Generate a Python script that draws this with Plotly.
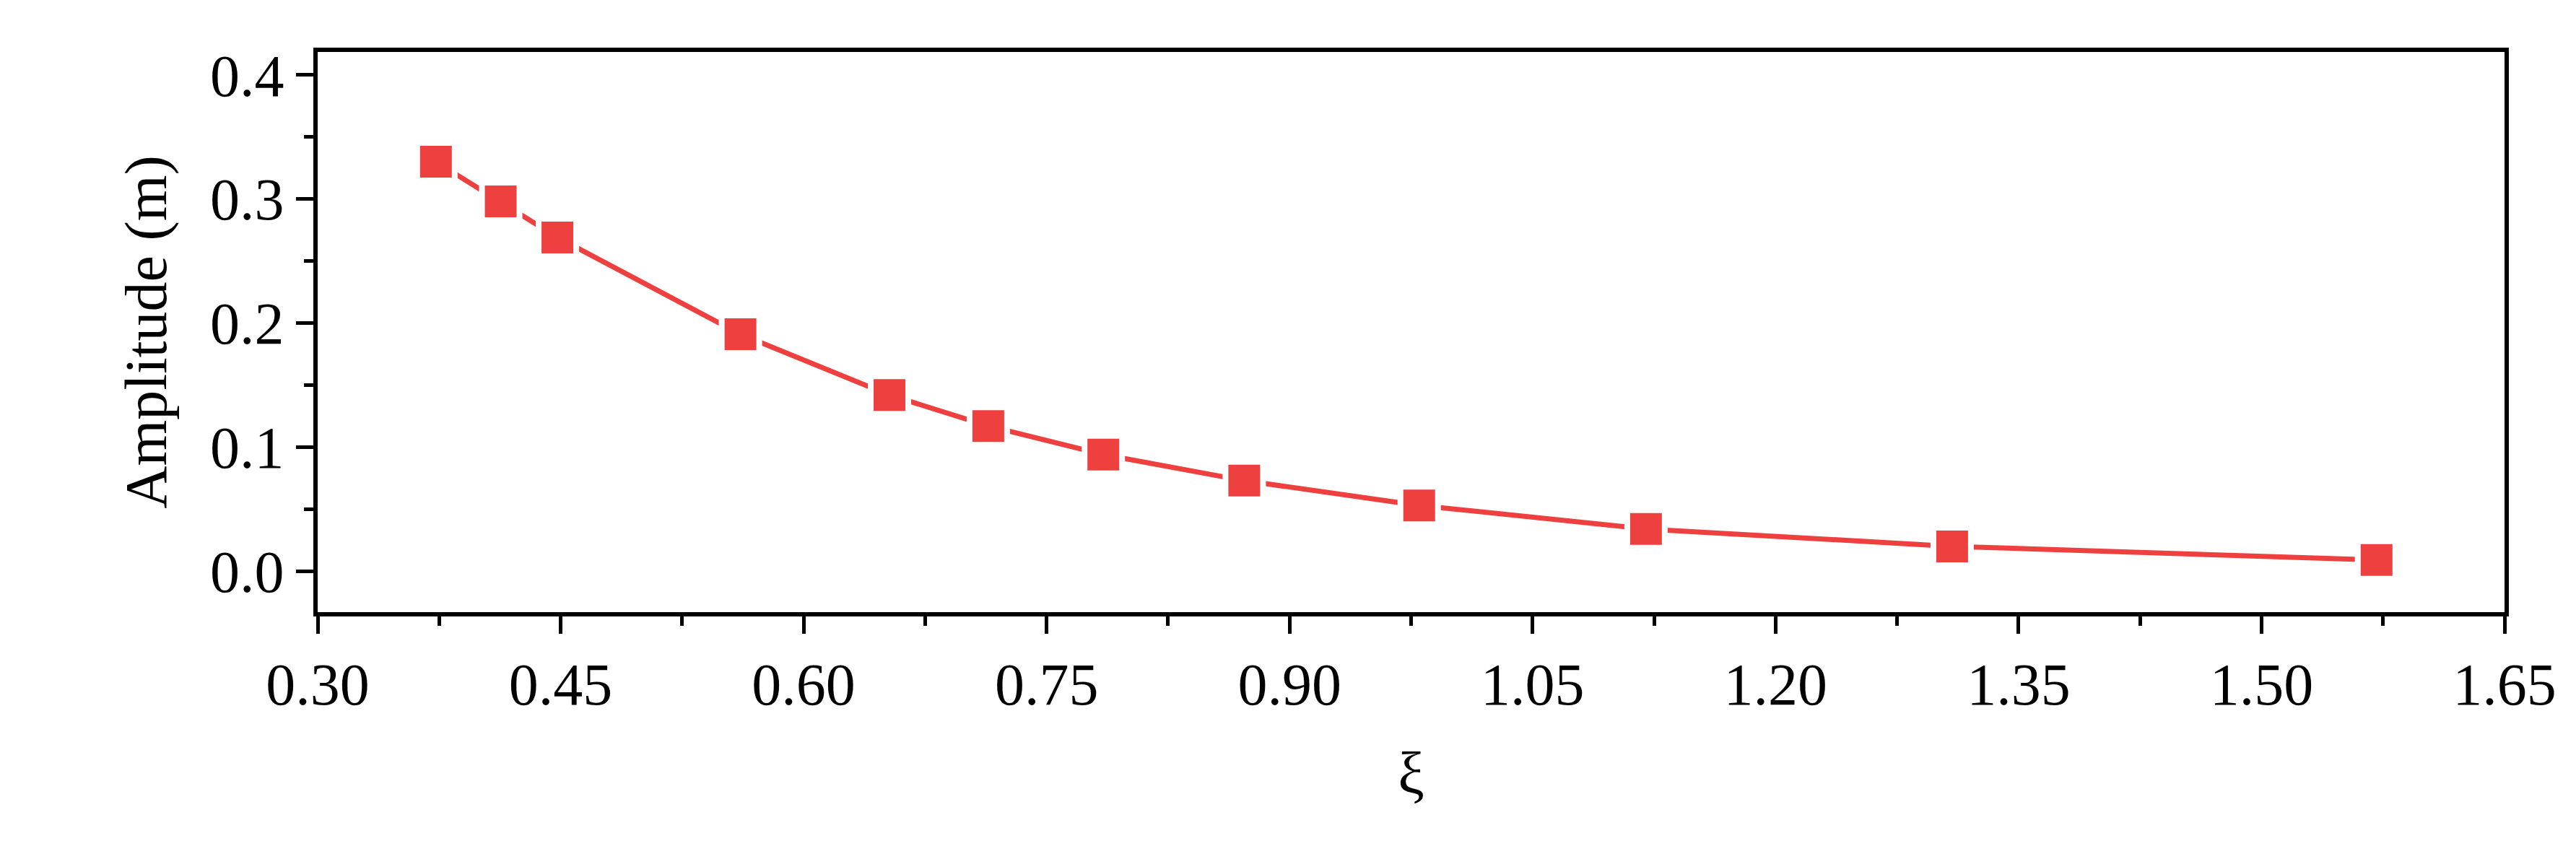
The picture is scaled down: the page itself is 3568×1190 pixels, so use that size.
import plotly.graph_objects as go

xi = [0.373, 0.413, 0.448, 0.561, 0.653, 0.714, 0.785, 0.872, 0.980, 1.120, 1.309, 1.571]
amp = [0.330, 0.298, 0.269, 0.191, 0.142, 0.117, 0.094, 0.073, 0.053, 0.034, 0.020, 0.009]
xticks = [0.30, 0.45, 0.60, 0.75, 0.90, 1.05, 1.20, 1.35, 1.50, 1.65]
yticks = [0.0, 0.1, 0.2, 0.3, 0.4]

red = "#EF4040"
fig = go.Figure(go.Scatter(
    x=xi, y=amp, mode="lines+markers",
    line=dict(color=red, width=7),
    marker=dict(symbol="square", size=52, color=red, line=dict(color="white", width=8)),
))
font = dict(family="Liberation Serif", size=82, color="black")
axis_common = dict(showline=True, linecolor="black", linewidth=6, mirror=True,
                   ticks="outside", ticklen=24, tickwidth=5, tickcolor="black",
                   showgrid=False, zeroline=False, tickfont=font)
fig.update_xaxes(range=[0.30, 1.65], tickvals=xticks, ticktext=[f"{v:.2f}" for v in xticks],
                 title=dict(text="ξ", font=font, standoff=50),
                 minor=dict(ticks="outside", ticklen=13, tickwidth=5, tickcolor="black", dtick=0.075, tick0=0.30),
                 **axis_common)
fig.update_yaxes(range=[-0.033, 0.4185], tickvals=yticks, ticktext=[f"{v:.1f}" for v in yticks],
                 title=dict(text="Amplitude (m)", font=font, standoff=35),
                 minor=dict(ticks="outside", ticklen=13, tickwidth=5, tickcolor="black", dtick=0.05, tick0=0),
                 **axis_common)
fig.update_layout(width=3568, height=1190, plot_bgcolor="white", paper_bgcolor="white",
                  margin=dict(l=432, r=107, t=64, b=350), showlegend=False)
fig.write_html("out.html")
